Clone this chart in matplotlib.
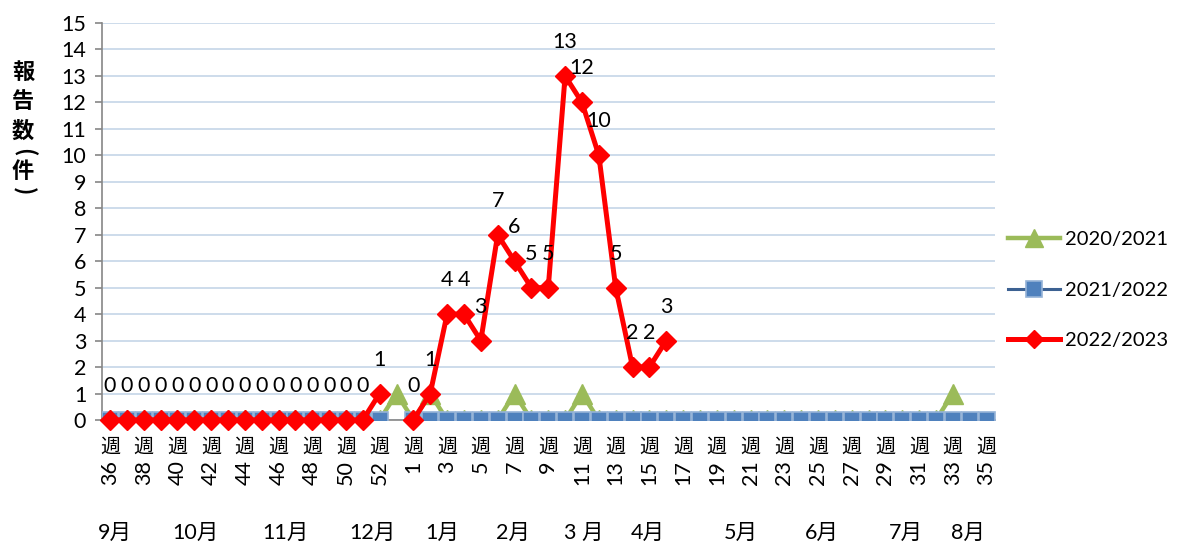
import matplotlib
matplotlib.use("Agg")
import matplotlib.pyplot as plt
import numpy as np

plt.rcParams['font.family'] = ['Lato', 'Noto Sans CJK JP', 'DejaVu Sans']

weeks = [36, 37, 38, 39, 40, 41, 42, 43, 44, 45, 46, 47, 48, 49, 50, 51, 52, 53,
         1, 2, 3, 4, 5, 6, 7, 8, 9, 10, 11, 12, 13, 14, 15, 16, 17, 18, 19, 20,
         21, 22, 23, 24, 25, 26, 27, 28, 29, 30, 31, 32, 33, 34, 35]

s2020_2021 = [0, 0, 0, 0, 0, 0, 0, 0, 0, 0, 0, 0, 0, 0, 0, 0, 0, 1,
              0, 1, 0, 0, 0, 0, 1, 0, 0, 0, 1, 0, 0, 0, 0, 0, 0, 0, 0, 0,
              0, 0, 0, 0, 0, 0, 0, 0, 0, 0, 0, 0, 1, None, None]
s2021_2022 = [0, 0, 0, 0, 0, 0, 0, 0, 0, 0, 0, 0, 0, 0, 0, 0, 0, None,
              0, 0, 0, 0, 0, 0, 0, 0, 0, 0, 0, 0, 0, 0, 0, 0, 0, 0, 0, 0,
              0, 0, 0, 0, 0, 0, 0, 0, 0, 0, 0, 0, 0, 0, 0]
s2022_2023 = [0, 0, 0, 0, 0, 0, 0, 0, 0, 0, 0, 0, 0, 0, 0, 0, 1, None,
              0, 1, 4, 4, 3, 7, 6, 5, 5, 13, 12, 10, 5, 2, 2, 3, None, None, None, None,
              None, None, None, None, None, None, None, None, None, None, None, None, None, None, None]

series_names = ['2020/2021', '2021/2022', '2022/2023']

months = ['9月', '10月', '11月', '12月', '1月', '2月', '3 月', '4月', '5月', '6月', '7月', '8月']
month_pos = [0.3, 5.1, 10.4, 15.6, 19.7, 23.9, 28.1, 31.9, 37.4, 42.2, 47.2, 50.9]

def arr(v):
    return np.array([np.nan if x is None else x for x in v], dtype=float)

x = np.arange(len(weeks))
FS = 15.5

fig = plt.figure(figsize=(11.81, 5.47), dpi=100)
ax = fig.add_axes([101.5/1181, 127/547, (995-101.5)/1181, 397/547])

green = '#9BBB59'
blue_face = '#4F81BD'
blue_edge = '#95B3D7'
blue_line = '#3C6192'
red = '#FF0000'

l1, = ax.plot(x, arr(s2020_2021), color=green, lw=3.2, marker='^', ms=14,
              mfc=green, mec=green, zorder=3, label=series_names[0])
l2, = ax.plot(x, arr(s2021_2022), color=blue_line, lw=2.2, marker='s', ms=12.2,
              mfc=blue_face, mec=blue_edge, mew=1.2, zorder=4, label=series_names[1])
l3, = ax.plot(x, arr(s2022_2023), color=red, lw=3.6, marker='D', ms=10,
              mfc=red, mec=red, zorder=5, label=series_names[2], clip_on=False)

for xi, v in zip(x, s2022_2023):
    if v is None:
        continue
    ax.annotate(str(v), xy=(xi, v), xytext=(0, 24.5), textcoords='offset points',
                ha='center', va='center', fontsize=FS, color='black', zorder=6)

ax.set_xlim(-0.5, len(weeks) - 0.5)
ax.set_ylim(0, 15)
ax.set_yticks(range(0, 16))
ax.yaxis.grid(True, color='#C5D5E8', lw=1.2)
ax.set_axisbelow(True)
for s in ['top', 'right']:
    ax.spines[s].set_visible(False)
ax.spines['left'].set_color('#868686')
ax.spines['bottom'].set_color('#868686')
ax.spines['left'].set_linewidth(1.2)
ax.spines['bottom'].set_linewidth(1.2)
ax.tick_params(axis='y', length=5, width=1.2, color='#868686', labelsize=FS, pad=6)
ax.set_xticks(x)
ax.set_xticklabels([])
ax.tick_params(axis='x', length=0)

# x tick labels: number rotated, 週 upright above
for xi, w in zip(x, weeks):
    if xi % 2 != 0:
        continue
    ax.annotate('週', xy=(xi, 0), xycoords=('data', 'axes fraction'),
                xytext=(0, -12), textcoords='offset points', ha='center', va='top',
                fontsize=14.5, family=['Noto Sans CJK JP'])
    ax.annotate(str(w), xy=(xi, 0), xycoords=('data', 'axes fraction'),
                xytext=(0, -29), textcoords='offset points', ha='center', va='top',
                rotation=90, fontsize=FS)

for m, p in zip(months, month_pos):
    ax.annotate(m, xy=(p, 0), xycoords=('data', 'axes fraction'),
                xytext=(0, -81), textcoords='offset points', ha='center', va='center',
                fontsize=FS)

# y-axis label stacked vertically (parentheses turned for vertical writing)
ylab_chars = ['報', '告', '数', '(', '件', ')']
ylab_rot = [0, 0, 0, -90, 0, -90]
ylab_y = [72, 102, 131, 152, 171, 191]
for c, r, yy in zip(ylab_chars, ylab_rot, ylab_y):
    fig.text(23/1181, 1 - yy/547, c, ha='center', va='center', fontsize=16,
             fontweight='bold', rotation=r, rotation_mode='anchor',
             family=['Noto Sans CJK JP'])

leg = fig.legend(handles=[l1, l2, l3], loc='center left',
                 bbox_to_anchor=(1008/1181, 1 - 290/547), frameon=False,
                 fontsize=14.5, handlelength=2.6, labelspacing=1.68, handletextpad=0.25,
                 borderaxespad=0, borderpad=0, markerscale=0.9)

fig.savefig('out.png', dpi=100)
